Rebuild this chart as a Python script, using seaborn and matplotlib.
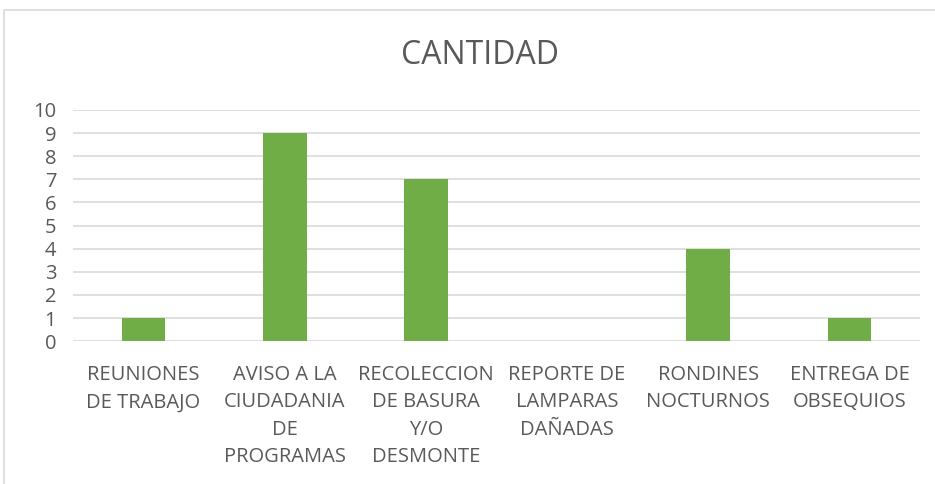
import matplotlib
matplotlib.use("Agg")
import matplotlib.pyplot as plt
import seaborn as sns
import pandas as pd
from matplotlib.patches import Rectangle

categorias = ["REUNIONES\nDE TRABAJO", "AVISO A LA\nCIUDADANIA\nDE\nPROGRAMAS",
              "RECOLECCION\nDE BASURA\nY/O\nDESMONTE", "REPORTE DE\nLAMPARAS\nDAÑADAS",
              "RONDINES\nNOCTURNOS", "ENTREGA DE\nOBSEQUIOS"]
cantidad = [1, 9, 7, 0, 4, 1]

df = pd.DataFrame({"cat": categorias, "cantidad": cantidad})

sns.set_theme(style="white")
plt.rcParams['font.family'] = ['Open Sans', 'DejaVu Sans']
txt = "#595959"

fig = plt.figure(figsize=(9.35, 4.84), dpi=100)
ax = fig.add_axes([0.078, 0.295, 0.906, 0.478])

sns.barplot(data=df, x="cat", y="cantidad", color="#70AD47", width=0.31,
            saturation=1, linewidth=0, ax=ax)

ax.set_ylim(0, 10)
ax.set_yticks(range(0, 11))
ax.yaxis.grid(True, color="#D9D9D9", linewidth=1.2)
ax.set_axisbelow(True)
for s in ax.spines.values():
    s.set_visible(False)
ax.set_xlabel("")
ax.set_ylabel("")
ax.tick_params(axis="both", length=0, colors=txt, labelsize=14.5)
ax.tick_params(axis="x", pad=17)
ax.tick_params(axis="y", pad=12)
for lbl in ax.get_xticklabels():
    lbl.set_linespacing(1.5)
ax.set_xlim(-0.5, len(categorias) - 0.5)

fig.text(0.513, 0.885, "CANTIDAD", ha="center", va="center", fontsize=23, color=txt)

fig.patches.append(Rectangle((4 / 935, -0.1), 1.1, 1 - 10 / 484 + 0.1,
                             transform=fig.transFigure, fill=False,
                             edgecolor="#D9D9D9", linewidth=1.2))

fig.savefig("out.png", dpi=100)
